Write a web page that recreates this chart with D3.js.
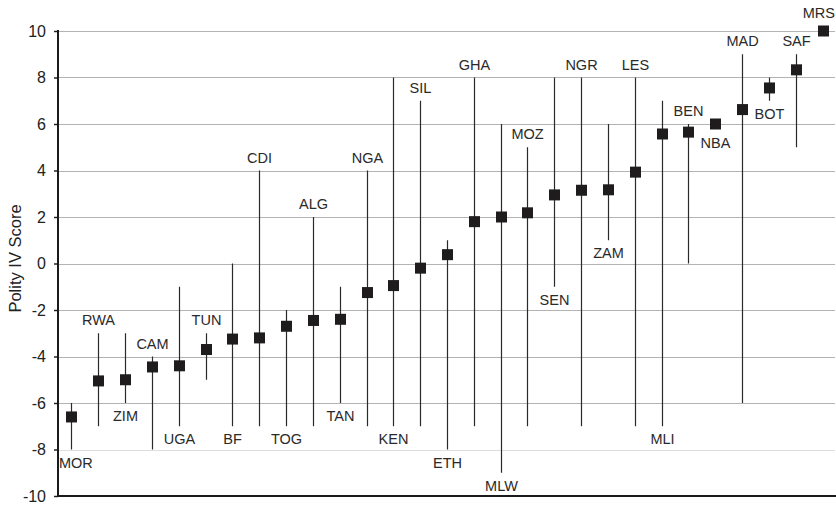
<!DOCTYPE html>
<html>
<head>
<meta charset="utf-8">
<script src="https://cdn.jsdelivr.net/npm/d3@7"></script>
<style>
  html, body { margin: 0; padding: 0; background: #fff; }
  svg { display: block; font-family: "Liberation Sans", Arial, Helvetica, sans-serif; }
</style>
</head>
<body>
<svg id="chart" width="836" height="505"></svg>
<script>
// ---- Data ----
const countries = ["MOR","RWA","ZIM","CAM","UGA","TUN","BF","CDI","TOG","ALG","TAN","NGA","KEN","SIL","ETH",
                   "GHA","MLW","MOZ","SEN","NGR","ZAM","LES","MLI","BEN","NBA","MAD","BOT","SAF","MRS"];
const meanScore = [-6.6,-5.05,-5.0,-4.45,-4.4,-3.7,-3.25,-3.2,-2.7,-2.45,-2.4,-1.25,-0.95,-0.2,0.38,
                   1.8,2.0,2.18,2.95,3.15,3.17,3.93,5.57,5.65,6.0,6.62,7.55,8.33,10];
const minScore  = [-8,-7,-6,-8,-7,-5,-7,-7,-7,-7,-6,-7,-7,-7,-8,
                   -7,-9,-7,-1,-7,1,-7,-7,0,6,-6,7,5,10];
const maxScore  = [-6,-3,-3,-4,-1,-3,0,4,-2,2,-1,4,8,7,1,
                   8,6,5,8,8,6,8,7,6,6,9,8,9,10];
const labelSide = ["below","above","below","above","below","above","below","above","below","above","below","above","below","above","below",
                   "above","below","above","below","above","below","above","below","above","below","above","below","above","above"];
const yTicks = [-10,-8,-6,-4,-2,0,2,4,6,8,10];
const yTitle = "Polity IV Score";

// ---- Layout ----
const svg = d3.select("#chart");
const margin = {left: 58, right: 0, top: 31, bottom: 9};
const W = 836, H = 505;
const plotBottom = H - margin.bottom; // 496
const x = d3.scaleBand().domain(countries).range([margin.left, W - margin.right]).padding(0);
const y = d3.scaleLinear().domain([-10, 10]).range([plotBottom, margin.top]);

const rows = countries.map((c, i) => ({c, mean: meanScore[i], min: minScore[i], max: maxScore[i], side: labelSide[i]}));

// gridlines
svg.append("g").selectAll("line").data(yTicks.filter(t => t !== -10)).join("line")
  .attr("x1", margin.left).attr("x2", W - 1)
  .attr("y1", d => Math.round(y(d)) + 0.5).attr("y2", d => Math.round(y(d)) + 0.5)
  .attr("stroke", d => d === -8 ? "#dedede" : "#b3b3b3").attr("stroke-width", 1);

// y axis
const yAxis = d3.axisLeft(y).tickValues(yTicks).tickSize(4).tickPadding(8).tickFormat(d => String(d));
const gy = svg.append("g").attr("transform", `translate(${margin.left},0)`).call(yAxis);
gy.select(".domain").remove();
gy.selectAll(".tick line").attr("stroke", "#222").attr("stroke-width", 1.5);
gy.selectAll(".tick text").attr("font-size", 16).attr("fill", "#222")
  .attr("font-family", "'Liberation Sans', Arial, sans-serif");

// axis lines
svg.append("line").attr("x1", margin.left).attr("x2", margin.left)
  .attr("y1", y(10) - 1).attr("y2", plotBottom + 1)
  .attr("stroke", "#1a1a1a").attr("stroke-width", 2);
svg.append("line").attr("x1", margin.left - 1).attr("x2", W)
  .attr("y1", plotBottom).attr("y2", plotBottom)
  .attr("stroke", "#1a1a1a").attr("stroke-width", 2);

// y title
svg.append("text")
  .attr("transform", `translate(21,${(y(10) + y(-10)) / 2 - 5}) rotate(-90)`)
  .attr("text-anchor", "middle").attr("font-size", 16.5).attr("fill", "#222")
  .text(yTitle);

const cx = d => Math.round(x(d.c) + x.bandwidth() / 2) + 0.5;

// range lines
svg.append("g").selectAll("line").data(rows.filter(d => d.max > d.min)).join("line")
  .attr("x1", cx).attr("x2", cx)
  .attr("y1", d => y(d.max)).attr("y2", d => y(d.min))
  .attr("stroke", "#2a2a2a").attr("stroke-width", 1.2);

// mean squares
const s = 11;
svg.append("g").selectAll("rect").data(rows).join("rect")
  .attr("x", d => cx(d) - s / 2).attr("y", d => y(d.mean) - s / 2)
  .attr("width", s).attr("height", s).attr("fill", "#1e1c1c");

// labels
const labels = svg.append("g").selectAll("text").data(rows).join("text")
  .attr("x", cx)
  .attr("y", d => d.side === "above" ? Math.min(y(d.max), y(d.mean) - s / 2) - 13
                                     : Math.max(y(d.min), y(d.mean) + s / 2) + 13)
  .attr("dy", "0.36em")
  .attr("text-anchor", "middle").attr("font-size", 14.5).attr("fill", "#2a2a2a")
  .text(d => d.c);

// keep labels inside the plot horizontally
labels.each(function(d) {
  const w = this.getComputedTextLength();
  let xc = cx(d);
  if (xc + w / 2 > W - 1) xc = W - 1 - w / 2;
  if (xc - w / 2 < margin.left + 1) xc = margin.left + 1 + w / 2;
  d3.select(this).attr("x", xc);
});
</script>
</body>
</html>
